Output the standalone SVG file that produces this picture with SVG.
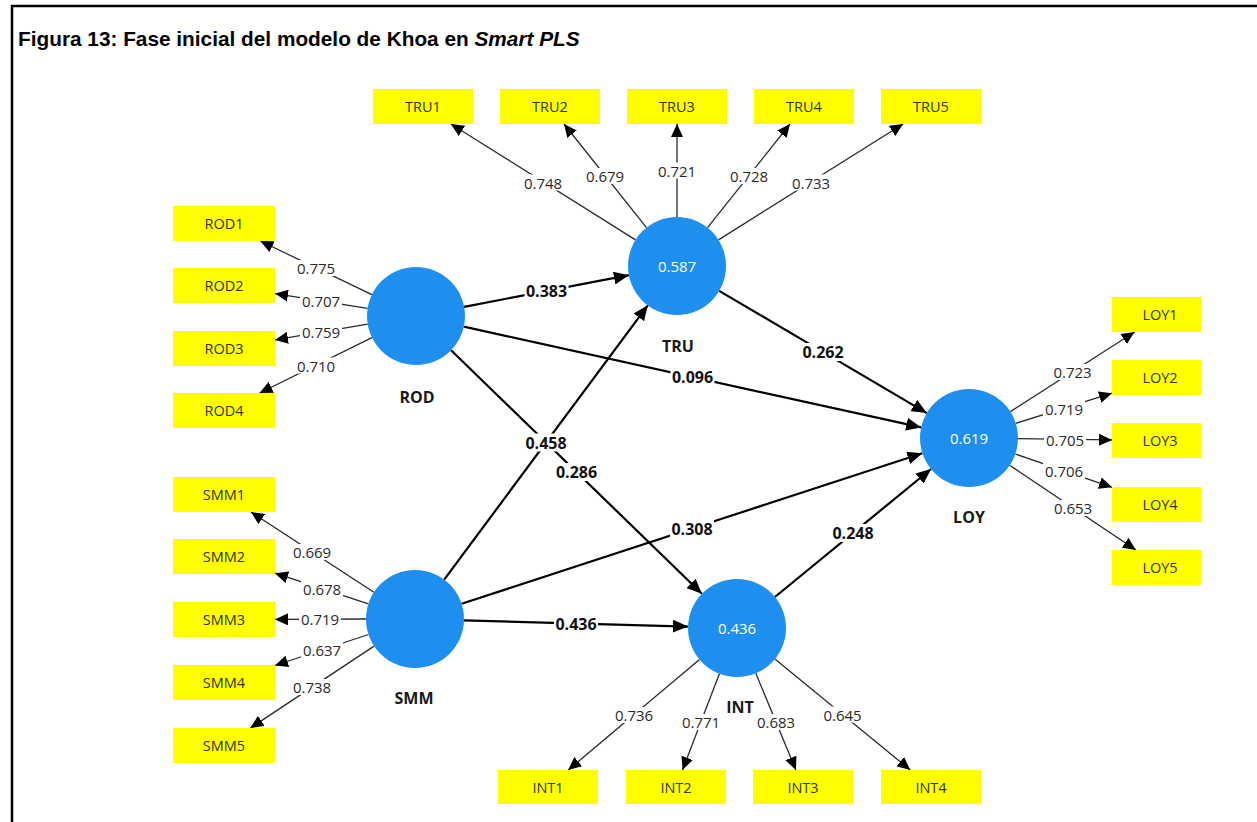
<svg xmlns="http://www.w3.org/2000/svg" width="1257" height="822" viewBox="0 0 1257 822">
  <defs>
    <style>
      .frame { stroke: #000; stroke-width: 2.5; fill: none; }
      .title { font-family: "Liberation Sans", Arial, sans-serif; font-weight: bold; font-size: 20.8px; fill: #000; }
      .ind rect { fill: #FFFF00; }
      .ind text { font-family: "Open Sans", "Noto Sans", sans-serif; font-size: 14.5px; fill: #333326; text-anchor: middle; dominant-baseline: central; }
      .lv circle { fill: #1E8FEE; }
      .lv .r2 { font-family: "Open Sans", "Noto Sans", sans-serif; font-size: 15px; fill: #fff; text-anchor: middle; dominant-baseline: central; }
      .lv .name { font-family: "Open Sans", "Noto Sans", sans-serif; font-weight: bold; font-size: 16px; fill: #1a1a1a; text-anchor: middle; dominant-baseline: central; }
      .load { stroke: #2a2a2a; stroke-width: 1.3; fill: none; marker-end: url(#ahSmall); }
      .path { stroke: #000; stroke-width: 2.2; fill: none; marker-end: url(#ahBig); }
      .lbl rect { fill: #fff; }
      .lbl .lo { font-family: "Open Sans", "Noto Sans", sans-serif; font-size: 15px; fill: #2a2a2a; text-anchor: middle; dominant-baseline: central; }
      .lbl .pc { font-family: "Open Sans", "Noto Sans", sans-serif; font-weight: bold; font-size: 16px; fill: #111; text-anchor: middle; dominant-baseline: central; }
    </style>
    <marker id="ahSmall" markerUnits="userSpaceOnUse" markerWidth="14" markerHeight="12" refX="13" refY="6" orient="auto">
      <path d="M0,0 L13,6 L0,12 Z" fill="#000"/>
    </marker>
    <marker id="ahBig" markerUnits="userSpaceOnUse" markerWidth="16" markerHeight="13" refX="15" refY="6.5" orient="auto">
      <path d="M0,0 L15,6.5 L0,13 Z" fill="#000"/>
    </marker>
  </defs>

  <rect x="0" y="0" width="1257" height="822" fill="#fff"/>

  <!-- figure frame: top and left rules -->
  <path class="frame" d="M12,822 V6 H1257"/>

  <text class="title" x="18" y="46">Figura 13: Fase inicial del modelo de Khoa en <tspan font-style="italic">Smart PLS</tspan></text>

  <!-- connectors: outer loadings and inner path coefficients -->
  <g id="connectors">
    <!-- TRU loadings -->
    <line class="load" x1="635.5" y1="239.9" x2="450.9" y2="124"/>
    <line class="load" x1="646.5" y1="227.7" x2="564" y2="124"/>
    <line class="load" x1="677" y1="217" x2="677" y2="124"/>
    <line class="load" x1="707.5" y1="227.7" x2="790" y2="124"/>
    <line class="load" x1="718.5" y1="239.9" x2="903.1" y2="124"/>
    <!-- ROD loadings -->
    <line class="load" x1="371.9" y1="294.7" x2="260.3" y2="241"/>
    <line class="load" x1="367.6" y1="308.3" x2="275" y2="293.6"/>
    <line class="load" x1="367.7" y1="324.2" x2="275" y2="339.9"/>
    <line class="load" x1="372" y1="337.6" x2="259.6" y2="393"/>
    <!-- SMM loadings -->
    <line class="load" x1="373.9" y1="592.2" x2="250.9" y2="512"/>
    <line class="load" x1="368.4" y1="603.8" x2="275" y2="573.2"/>
    <line class="load" x1="366" y1="619" x2="275" y2="619.4"/>
    <line class="load" x1="368.5" y1="634.5" x2="275" y2="665.5"/>
    <line class="load" x1="374.1" y1="646.1" x2="250.4" y2="728"/>
    <!-- LOY loadings -->
    <line class="load" x1="1010.3" y1="411.6" x2="1134.6" y2="332"/>
    <line class="load" x1="1015.7" y1="423.3" x2="1112" y2="393.2"/>
    <line class="load" x1="1018" y1="438.6" x2="1112" y2="439.9"/>
    <line class="load" x1="1015.3" y1="454" x2="1112" y2="487.3"/>
    <line class="load" x1="1009.7" y1="465.3" x2="1135.9" y2="550"/>
    <!-- INT loadings -->
    <line class="load" x1="699.5" y1="659.6" x2="568.2" y2="770"/>
    <line class="load" x1="719.4" y1="673.8" x2="682.5" y2="770"/>
    <line class="load" x1="755.8" y1="673.3" x2="795.9" y2="770"/>
    <line class="load" x1="774.9" y1="659.1" x2="910.3" y2="770"/>

    <!-- structural paths -->
    <line class="path" x1="464.1" y1="306.8" x2="628.9" y2="275.2"/>
    <line class="path" x1="463.8" y1="326.6" x2="921.2" y2="427.4"/>
    <line class="path" x1="451.1" y1="350.2" x2="701.9" y2="593.8"/>
    <line class="path" x1="444.2" y1="579.7" x2="647.8" y2="305.3"/>
    <line class="path" x1="461.6" y1="603.8" x2="922.4" y2="453.2"/>
    <line class="path" x1="464" y1="620.4" x2="688" y2="626.6"/>
    <line class="path" x1="719.2" y1="290.9" x2="926.8" y2="413.1"/>
    <line class="path" x1="774.9" y1="597" x2="931.1" y2="469"/>

    <!-- loading labels -->
    <g class="lbl">
      <rect x="522" y="174.5" width="42" height="16"/><text class="lo" x="543" y="182.5">0.748</text>
      <rect x="584" y="168" width="42" height="16"/><text class="lo" x="605" y="176">0.679</text>
      <rect x="656" y="162.5" width="42" height="16"/><text class="lo" x="677" y="170.5">0.721</text>
      <rect x="728" y="168" width="42" height="16"/><text class="lo" x="749" y="176">0.728</text>
      <rect x="790" y="174.5" width="42" height="16"/><text class="lo" x="811" y="182.5">0.733</text>

      <rect x="295" y="260" width="42" height="16"/><text class="lo" x="316" y="268">0.775</text>
      <rect x="300" y="293" width="42" height="16"/><text class="lo" x="321" y="301">0.707</text>
      <rect x="300" y="324" width="42" height="16"/><text class="lo" x="321" y="332">0.759</text>
      <rect x="295" y="357.5" width="42" height="16"/><text class="lo" x="316" y="365.5">0.710</text>

      <rect x="291" y="544" width="42" height="16"/><text class="lo" x="312" y="552">0.669</text>
      <rect x="301" y="580.5" width="42" height="16"/><text class="lo" x="322" y="588.5">0.678</text>
      <rect x="299" y="611" width="42" height="16"/><text class="lo" x="320" y="619">0.719</text>
      <rect x="301" y="642" width="42" height="16"/><text class="lo" x="322" y="650">0.637</text>
      <rect x="291" y="679" width="42" height="16"/><text class="lo" x="312" y="687">0.738</text>

      <rect x="1051.5" y="364" width="42" height="16"/><text class="lo" x="1072.5" y="372">0.723</text>
      <rect x="1043" y="400.5" width="42" height="16"/><text class="lo" x="1064" y="408.5">0.719</text>
      <rect x="1044" y="431.5" width="42" height="16"/><text class="lo" x="1065" y="439.5">0.705</text>
      <rect x="1043" y="463" width="42" height="16"/><text class="lo" x="1064" y="471">0.706</text>
      <rect x="1052" y="500" width="42" height="16"/><text class="lo" x="1073" y="508">0.653</text>

      <rect x="613" y="707" width="42" height="16"/><text class="lo" x="634" y="715">0.736</text>
      <rect x="680" y="714" width="42" height="16"/><text class="lo" x="701" y="722">0.771</text>
      <rect x="755" y="714" width="42" height="16"/><text class="lo" x="776" y="722">0.683</text>
      <rect x="821.5" y="706.5" width="42" height="16"/><text class="lo" x="842.5" y="714.5">0.645</text>
    </g>

    <!-- path coefficient labels -->
    <g class="lbl">
      <rect x="524.5" y="282" width="44" height="18"/><text class="pc" x="546.5" y="291">0.383</text>
      <rect x="670.5" y="368" width="44" height="18"/><text class="pc" x="692.5" y="377">0.096</text>
      <rect x="554.5" y="463" width="44" height="18"/><text class="pc" x="576.5" y="472">0.286</text>
      <rect x="524" y="433.5" width="44" height="18"/><text class="pc" x="546" y="442.5">0.458</text>
      <rect x="670" y="519.5" width="44" height="18"/><text class="pc" x="692" y="528.5">0.308</text>
      <rect x="554" y="614.5" width="44" height="18"/><text class="pc" x="576" y="623.5">0.436</text>
      <rect x="801" y="343" width="44" height="18"/><text class="pc" x="823" y="352">0.262</text>
      <rect x="831" y="524" width="44" height="18"/><text class="pc" x="853" y="533">0.248</text>
    </g>
  </g>

  <!-- latent variables -->
  <g id="ROD" class="lv">
    <circle cx="416" cy="316" r="49"/>
    <text class="name" x="417" y="397">ROD</text>
  </g>
  <g id="TRU" class="lv">
    <circle cx="677" cy="266" r="49"/>
    <text class="r2" x="677" y="266">0.587</text>
    <text class="name" x="678" y="346">TRU</text>
  </g>
  <g id="LOY" class="lv">
    <circle cx="969" cy="438" r="49"/>
    <text class="r2" x="969" y="438">0.619</text>
    <text class="name" x="969" y="517">LOY</text>
  </g>
  <g id="SMM" class="lv">
    <circle cx="415" cy="619" r="49"/>
    <text class="name" x="414" y="698">SMM</text>
  </g>
  <g id="INT" class="lv">
    <circle cx="737" cy="628" r="49"/>
    <text class="r2" x="737" y="628">0.436</text>
    <text class="name" x="740" y="707">INT</text>
  </g>

  <!-- indicators -->
  <g id="TRU1" class="ind"><rect x="373" y="89" width="100" height="35"/><text x="423" y="106.5">TRU1</text></g>
  <g id="TRU2" class="ind"><rect x="500" y="89" width="100" height="35"/><text x="550" y="106.5">TRU2</text></g>
  <g id="TRU3" class="ind"><rect x="627" y="89" width="100" height="35"/><text x="677" y="106.5">TRU3</text></g>
  <g id="TRU4" class="ind"><rect x="754" y="89" width="100" height="35"/><text x="804" y="106.5">TRU4</text></g>
  <g id="TRU5" class="ind"><rect x="881" y="89" width="100" height="35"/><text x="931" y="106.5">TRU5</text></g>

  <g id="ROD1" class="ind"><rect x="173" y="206" width="102" height="35"/><text x="224" y="223.5">ROD1</text></g>
  <g id="ROD2" class="ind"><rect x="173" y="268" width="102" height="35"/><text x="224" y="285.5">ROD2</text></g>
  <g id="ROD3" class="ind"><rect x="173" y="331" width="102" height="35"/><text x="224" y="348.5">ROD3</text></g>
  <g id="ROD4" class="ind"><rect x="173" y="393" width="102" height="35"/><text x="224" y="410.5">ROD4</text></g>

  <g id="SMM1" class="ind"><rect x="173" y="477" width="102" height="35"/><text x="224" y="494.5">SMM1</text></g>
  <g id="SMM2" class="ind"><rect x="173" y="539" width="102" height="35"/><text x="224" y="556.5">SMM2</text></g>
  <g id="SMM3" class="ind"><rect x="173" y="602" width="102" height="35"/><text x="224" y="619.5">SMM3</text></g>
  <g id="SMM4" class="ind"><rect x="173" y="665" width="102" height="35"/><text x="224" y="682.5">SMM4</text></g>
  <g id="SMM5" class="ind"><rect x="173" y="728" width="102" height="35"/><text x="224" y="745.5">SMM5</text></g>

  <g id="LOY1" class="ind"><rect x="1112" y="297" width="89" height="35"/><text x="1160" y="314.5">LOY1</text></g>
  <g id="LOY2" class="ind"><rect x="1112" y="360" width="89" height="35"/><text x="1160" y="377.5">LOY2</text></g>
  <g id="LOY3" class="ind"><rect x="1112" y="423" width="89" height="35"/><text x="1160" y="440.5">LOY3</text></g>
  <g id="LOY4" class="ind"><rect x="1112" y="487" width="89" height="35"/><text x="1160" y="504.5">LOY4</text></g>
  <g id="LOY5" class="ind"><rect x="1112" y="550" width="89" height="35"/><text x="1160" y="567.5">LOY5</text></g>

  <g id="INT1" class="ind"><rect x="498" y="770" width="100" height="34"/><text x="548" y="787">INT1</text></g>
  <g id="INT2" class="ind"><rect x="626" y="770" width="100" height="34"/><text x="676" y="787">INT2</text></g>
  <g id="INT3" class="ind"><rect x="753" y="770" width="100" height="34"/><text x="803" y="787">INT3</text></g>
  <g id="INT4" class="ind"><rect x="881" y="770" width="100" height="34"/><text x="931" y="787">INT4</text></g>
</svg>
